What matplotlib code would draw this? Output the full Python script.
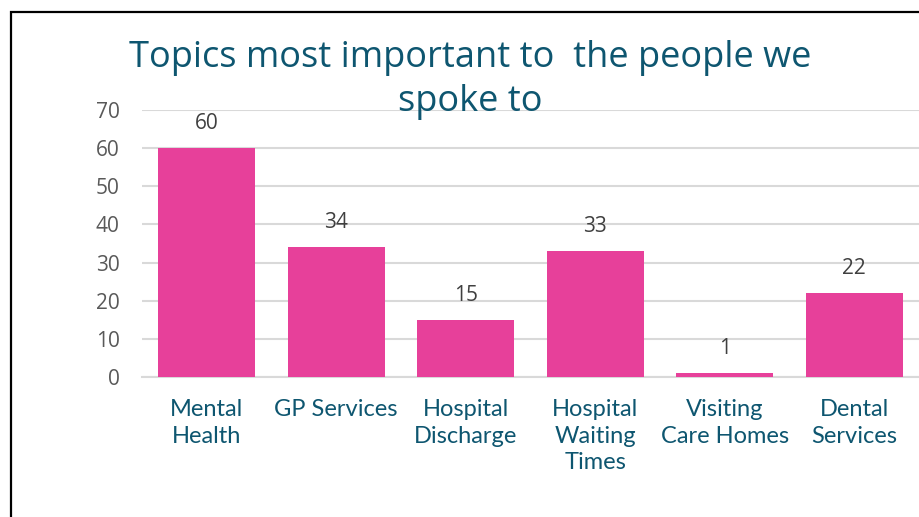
import matplotlib
matplotlib.use('Agg')
import matplotlib.pyplot as plt
from matplotlib.patches import Rectangle

# data
categories = ['Mental\nHealth', 'GP Services', 'Hospital\nDischarge',
              'Hospital\nWaiting\nTimes', 'Visiting\nCare Homes', 'Dental\nServices']
counts = [60, 34, 15, 33, 1, 22]
yticks = [0, 10, 20, 30, 40, 50, 60, 70]
title_lines = ['Topics most important to  the people we', 'spoke to']

bar_color = '#E7409A'
teal = '#0E5670'
grey_text = '#595959'

fig = plt.figure(figsize=(9.19, 5.17), dpi=100)
ax = fig.add_axes([142/919, 1 - 377/517, 1 - 142/919, (377 - 110)/517])

x = range(len(counts))
bars = ax.bar(x, counts, width=0.75, color=bar_color, zorder=3)

ax.set_xlim(-0.5, 5.5)
ax.set_ylim(0, 70)
ax.set_yticks(yticks)
ax.yaxis.grid(True, color='#D9D9D9', linewidth=1.5, zorder=0)
ax.set_axisbelow(True)
for s in ['top', 'right', 'left']:
    ax.spines[s].set_visible(False)
ax.spines['bottom'].set_color('#D9D9D9')
ax.spines['bottom'].set_linewidth(1.5)

ax.set_xticks(list(x))
ax.set_xticklabels(categories, family='Lato', fontsize=17, color=teal, linespacing=1.32)
ax.tick_params(axis='x', length=0, pad=16)
ax.tick_params(axis='y', length=0, pad=16, labelsize=15, labelcolor=grey_text)
for lab in ax.get_yticklabels():
    lab.set_family('Open Sans')

for b, v in zip(bars, counts):
    ax.annotate(str(v), (b.get_x() + b.get_width() / 2, v), xytext=(0, 10),
                textcoords='offset points', ha='center', va='bottom',
                fontsize=15, color='#404040', family='Open Sans')

# title as two lines so the wide first line does not cover the labels below
fig.text(0.512, 1 - 67/517, title_lines[0], ha='center', va='baseline', fontsize=26,
         color=teal, family='Open Sans')
fig.text(0.512, 1 - 111/517, title_lines[1], ha='center', va='baseline', fontsize=26,
         color=teal, family='Open Sans')

# black frame on left and top
fig.add_artist(Rectangle((11/919, -0.1), 1.2, 1 - 12/517 + 0.1, transform=fig.transFigure,
                         fill=False, edgecolor='black', linewidth=1.6, clip_on=False))

fig.savefig('out.png', dpi=100)
